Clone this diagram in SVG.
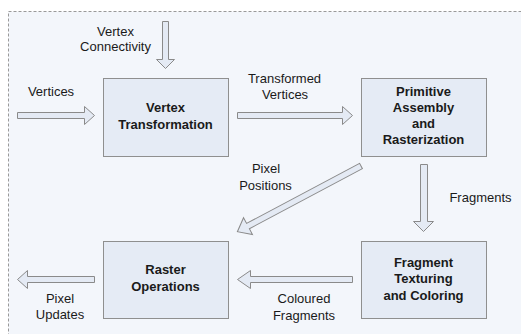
<svg xmlns="http://www.w3.org/2000/svg" width="521" height="334" viewBox="0 0 521 334">
<style>
.box{fill:#e5ebf5;stroke:#8f8f8f;stroke-width:1}
.arr{fill:#e4eaf4;stroke:#8a8a8a;stroke-width:1;stroke-linejoin:miter}
text{font-family:"Liberation Sans",Arial,sans-serif;font-size:13px;fill:#1a1a1a;text-anchor:middle}
.b{font-weight:bold}
</style>
<rect x="0" y="0" width="521" height="334" fill="#ffffff"/>
<rect x="8.5" y="11.5" width="530" height="340" fill="#f3f6fb" stroke="#999999" stroke-dasharray="3,2"/>
<g id="connectors">
<polygon class="arr" points="162.5,21.5 168.5,21.5 168.5,59.5 174.5,59.5 165.5,68.5 156.5,59.5 162.5,59.5"/>
<polygon class="arr" points="17.5,112.5 84.5,112.5 84.5,106.5 94.5,115.5 84.5,124.5 84.5,118.5 17.5,118.5"/>
<polygon class="arr" points="237.5,112.5 342.5,112.5 342.5,106.5 352.5,115.5 342.5,124.5 342.5,118.5 237.5,118.5"/>
<polygon class="arr" points="420.5,164.5 427.5,164.5 427.5,221.5 433.5,221.5 423.5,231.5 413.5,221.5 420.5,221.5"/>
<polygon class="arr" points="352.5,276.5 250.5,276.5 250.5,270.5 237.5,279.5 250.5,288.5 250.5,282.5 352.5,282.5"/>
<polygon class="arr" points="94.5,276.5 27.5,276.5 27.5,270.5 17.5,279.5 27.5,288.5 27.5,282.5 94.5,282.5"/>
<g transform="translate(361,166) rotate(152)">
<polygon class="arr" points="0,-3 128,-3 128,-9.5 140,0 128,9.5 128,3 0,3"/>
</g>
</g>
<g id="vertex-transformation">
<rect class="box" x="103.5" y="78.5" width="125" height="78"/>
<text class="b" x="165.5" y="112">Vertex</text>
<text class="b" x="165.5" y="129">Transformation</text>
</g>
<g id="primitive-assembly">
<rect class="box" x="361.5" y="78.5" width="125" height="78"/>
<text class="b" x="423.5" y="96">Primitive</text>
<text class="b" x="423.5" y="112">Assembly</text>
<text class="b" x="423.5" y="128">and</text>
<text class="b" x="423.5" y="144">Rasterization</text>
</g>
<g id="raster-operations">
<rect class="box" x="103.5" y="241.5" width="125" height="77"/>
<text class="b" x="165.5" y="274">Raster</text>
<text class="b" x="165.5" y="291">Operations</text>
</g>
<g id="fragment-texturing">
<rect class="box" x="361.5" y="241.5" width="125" height="77"/>
<text class="b" x="423.5" y="267">Fragment</text>
<text class="b" x="423.5" y="283">Texturing</text>
<text class="b" x="423.5" y="300">and Coloring</text>
</g>
<g id="labels">
<text x="115.5" y="36">Vertex</text>
<text x="115.5" y="51">Connectivity</text>
<text x="51" y="96">Vertices</text>
<text x="284.5" y="83">Transformed</text>
<text x="285" y="99">Vertices</text>
<text x="266" y="173">Pixel</text>
<text x="265.5" y="190">Positions</text>
<text x="480.5" y="202">Fragments</text>
<text x="304" y="303">Coloured</text>
<text x="304" y="320">Fragments</text>
<text x="60" y="303">Pixel</text>
<text x="60" y="319">Updates</text>
</g>
</svg>
